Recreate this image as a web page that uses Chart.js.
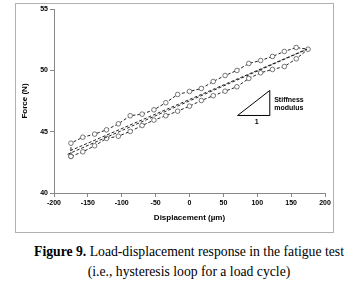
<!DOCTYPE html>
<html>
<head>
<meta charset="utf-8">
<script src="https://cdn.jsdelivr.net/npm/chart.js@4.4.1/dist/chart.umd.min.js"></script>
<style>
  body { margin: 0; background: #fff; width: 351px; height: 287px; position: relative; overflow: hidden; }
  #frame { position: absolute; left: 15px; top: 3px; width: 317px; height: 228px; border: 1px solid #b0b0b0; }
  #chartBox { position: absolute; left: 0; top: 0; width: 351px; height: 237px; }
  #caption { position: absolute; left: 27px; top: 242px; width: 324px; text-align: center;
             font-family: "Liberation Serif", "Times New Roman", serif; font-size: 13.7px; line-height: 20px; color: #000; }
</style>
</head>
<body>
<div id="frame"></div>
<div id="chartBox"><canvas id="loopChart"></canvas></div>
<div id="caption"><b>Figure 9.</b> Load-displacement response in the fatigue test<br>(i.e., hysteresis loop for a load cycle)</div>
<script>
// 1. Data
const displacement = [-175, -157.5, -140, -122.5, -105, -87.5, -70, -52.5, -35, -17.5, 0,
                      17.5, 35, 52.5, 70, 87.5, 105, 122.5, 140, 157.5, 175];
const loadingForce = [42.98, 43.36, 43.85, 44.45, 44.63, 45.02, 45.5, 45.94, 46.3, 46.67, 47.08,
                      47.54, 47.93, 48.3, 48.66, 49.34, 49.8, 50.07, 50.31, 50.94, 51.72];
const unloadingForce = [44.06, 44.55, 44.8, 45.15, 45.64, 46.3, 46.43, 46.78, 47.36, 48.03, 48.28,
                        48.52, 49.09, 49.58, 49.99, 50.56, 50.8, 51.13, 51.54, 51.86, 51.72];

// straight fit lines through the loop
const fitX1 = [-180, 173];
const fitY1 = [43.15, 51.7];
const fitX2 = [-176, 173];
const fitY2 = [43.45, 51.72];

// stiffness triangle
const triX = [71, 118.5, 118.5, 71];
const triY = [46.32, 46.32, 48.36, 46.32];

const xTicks = [-200, -150, -100, -50, 0, 50, 100, 150, 200];
const yTicks = [40, 45, 50, 55];

// 2. Build the closed loop: loading up, unloading back down, close at left end
const loopPts = [];
displacement.forEach((x, i) => loopPts.push({ x: x, y: loadingForce[i] }));
for (let i = displacement.length - 2; i >= 0; i--) loopPts.push({ x: displacement[i], y: unloadingForce[i] });
loopPts.push({ x: displacement[0], y: loadingForce[0] });

const toPts = (xs, ys) => xs.map((x, i) => ({ x: x, y: ys[i] }));

// 3. Text annotation plugin (stiffness label)
const notePlugin = {
  id: 'notes',
  afterDatasetsDraw(chart) {
    const { ctx, scales } = chart;
    ctx.save();
    ctx.fillStyle = '#000';
    ctx.font = 'bold 7px "Liberation Sans", Arial, sans-serif';
    ctx.textBaseline = 'middle';
    ctx.textAlign = 'left';
    const tx = scales.x.getPixelForValue(125);
    ctx.fillText('Stiffness', tx, scales.y.getPixelForValue(47.6));
    ctx.fillText('modulus', tx, scales.y.getPixelForValue(46.9));
    ctx.textAlign = 'center';
    ctx.fillText('1', scales.x.getPixelForValue(99), scales.y.getPixelForValue(45.8));
    ctx.restore();
  }
};

const tickFont = { family: '"Liberation Sans", Arial, sans-serif', size: 7, weight: 'bold' };
const titleFont = { family: '"Liberation Sans", Arial, sans-serif', size: 8, weight: 'bold' };

new Chart(document.getElementById('loopChart'), {
  type: 'scatter',
  data: {
    datasets: [
      { data: toPts(fitX1, fitY1), showLine: true, borderColor: '#222', borderWidth: 1, borderDash: [3, 2], pointRadius: 0 },
      { data: toPts(fitX2, fitY2), showLine: true, borderColor: '#222', borderWidth: 1, borderDash: [3, 2], pointRadius: 0 },
      { data: loopPts, showLine: true, borderColor: '#222', borderWidth: 1, borderDash: [3, 2],
        pointRadius: 2.3, pointBackgroundColor: '#fff', pointBorderColor: '#555', pointBorderWidth: 0.8 },
      { data: toPts(triX, triY), showLine: true, borderColor: '#000', borderWidth: 1, pointRadius: 0 }
    ]
  },
  options: {
    responsive: true,
    maintainAspectRatio: false,
    animation: false,
    layout: { padding: { left: 15, top: 9, right: 26, bottom: 4 } },
    plugins: { legend: { display: false }, tooltip: { enabled: false } },
    scales: {
      x: {
        min: -200, max: 200,
        afterBuildTicks: s => { s.ticks = xTicks.map(v => ({ value: v })); },
        afterFit: s => { s.height = 40; },
        grid: { drawOnChartArea: false, tickLength: 4, tickColor: '#888' },
        border: { color: '#888' },
        ticks: { font: tickFont, color: '#000', padding: 2, maxRotation: 0 },
        title: { display: true, text: 'Displacement (µm)', font: titleFont, color: '#000', padding: { top: 4, bottom: 10 } }
      },
      y: {
        min: 40, max: 55,
        afterBuildTicks: s => { s.ticks = yTicks.map(v => ({ value: v })); },
        afterFit: s => { s.width = 39; },
        grid: { drawOnChartArea: false, tickLength: 4, tickColor: '#888' },
        border: { color: '#888' },
        ticks: { font: tickFont, color: '#000', padding: 2 },
        title: { display: true, text: 'Force (N)', font: titleFont, color: '#000', padding: { top: 5, bottom: 0 } }
      }
    }
  },
  plugins: [notePlugin]
});
</script>
</body>
</html>
